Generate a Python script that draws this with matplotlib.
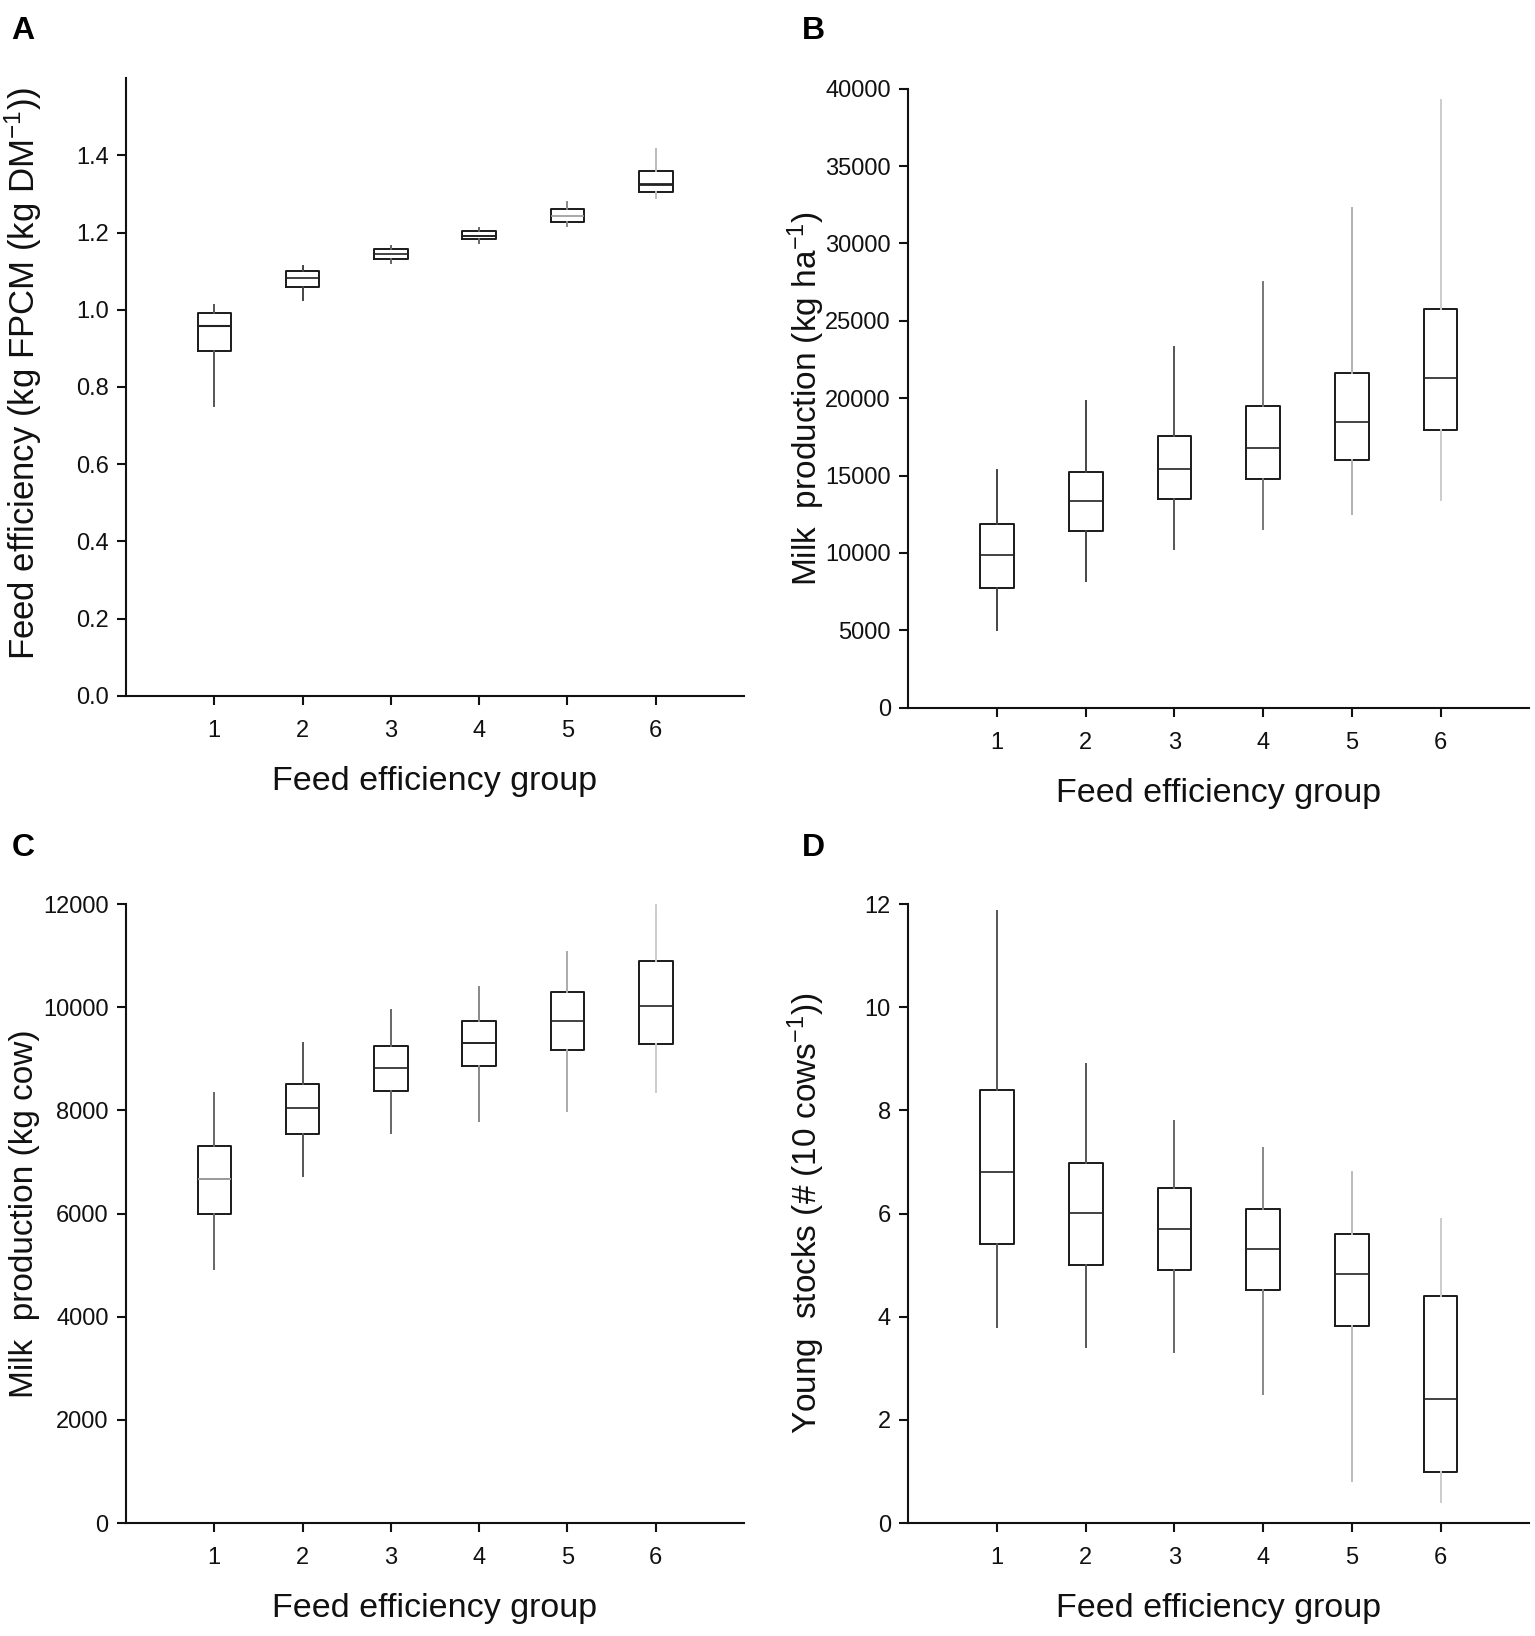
import matplotlib
matplotlib.use("Agg")
import matplotlib.pyplot as plt

plt.rcParams['font.family'] = ['Liberation Sans', 'DejaVu Sans']
plt.rcParams['mathtext.fontset'] = 'custom'
plt.rcParams['mathtext.rm'] = 'Liberation Sans'
plt.rcParams['mathtext.it'] = 'Liberation Sans:italic'
plt.rcParams['mathtext.bf'] = 'Liberation Sans:bold'

groups = [1, 2, 3, 4, 5, 6]

# Panel A: feed efficiency (kg FPCM / kg DM)
a_low = [0.752, 1.025, 1.122, 1.173, 1.217, 1.290]
a_q1 = [0.893, 1.058, 1.131, 1.184, 1.227, 1.304]
a_med = [0.958, 1.083, 1.145, 1.191, 1.243, 1.326]
a_q3 = [0.992, 1.100, 1.158, 1.203, 1.261, 1.358]
a_high = [1.012, 1.114, 1.166, 1.211, 1.279, 1.416]

# Panel B: milk production (kg/ha)
b_low = [5010, 8200, 10250, 11530, 12550, 13410]
b_q1 = [7740, 11400, 13510, 14790, 15980, 17960]
b_med = [9850, 13340, 15450, 16800, 18480, 21320]
b_q3 = [11890, 15260, 17530, 19470, 21610, 25770]
b_high = [15390, 19800, 23330, 27480, 32320, 39270]

# Panel C: milk production (kg/cow)
c_low = [4920, 6720, 7560, 7800, 7990, 8360]
c_q1 = [5990, 7550, 8380, 8870, 9170, 9280]
c_med = [6670, 8050, 8830, 9300, 9740, 10020]
c_q3 = [7310, 8520, 9250, 9730, 10290, 10900]
c_high = [8340, 9310, 9950, 10390, 11080, 11990]

# Panel D: young stocks (# per 10 cows)
d_low = [3.81, 3.41, 3.31, 2.51, 0.81, 0.40]
d_q1 = [5.41, 5.01, 4.91, 4.51, 3.82, 1.00]
d_med = [6.81, 6.01, 5.71, 5.32, 4.82, 2.41]
d_q3 = [8.40, 6.99, 6.50, 6.09, 5.60, 4.41]
d_high = [11.87, 8.90, 7.80, 7.28, 6.80, 5.90]

a_yticks = [0.0, 0.2, 0.4, 0.6, 0.8, 1.0, 1.2, 1.4]
b_yticks = [0, 5000, 10000, 15000, 20000, 25000, 30000, 35000, 40000]
c_yticks = [0, 2000, 4000, 6000, 8000, 10000, 12000]
d_yticks = [0, 2, 4, 6, 8, 10, 12]

panels = [
    dict(letter='A', rect=[0.0821, 0.5746, 0.4026, 0.3777], ylim=(0, 1.6),
         yticks=a_yticks, fmt='{:.1f}', ylsize=25,
         ylabel='Feed efficiency (kg FPCM (kg DM$^{-1}$))', lab=(-0.133, 0.523),
         stats=(a_low, a_q1, a_med, a_q3, a_high),
         wcol=['#555555', '#444444', '#666666', '#666666', '#888888', '#bbbbbb'],
         mcol=['#222222', '#222222', '#222222', '#222222', '#999999', '#222222'],
         mlw=[1.5, 1.2, 1.2, 1.4, 1.2, 2.0]),
    dict(letter='B', rect=[0.5917, 0.5674, 0.4046, 0.3784], ylim=(0, 40000),
         yticks=b_yticks, fmt='{:d}', ylsize=24,
         ylabel='Milk  production (kg ha$^{-1}$)', lab=(-0.131, 0.5),
         stats=(b_low, b_q1, b_med, b_q3, b_high),
         wcol=['#444444', '#444444', '#555555', '#777777', '#b0b0b0', '#cccccc'],
         mcol=['#222222'] * 6, mlw=[1.2] * 6),
    dict(letter='C', rect=[0.0821, 0.0690, 0.4026, 0.3784], ylim=(0, 12000),
         yticks=c_yticks, fmt='{:d}', ylsize=24,
         ylabel='Milk  production (kg cow)', lab=(-0.140, 0.5),
         stats=(c_low, c_q1, c_med, c_q3, c_high),
         wcol=['#666666', '#555555', '#666666', '#888888', '#aaaaaa', '#cccccc'],
         mcol=['#999999', '#222222', '#222222', '#222222', '#222222', '#222222'],
         mlw=[1.4, 1.2, 1.2, 1.4, 1.2, 1.2]),
    dict(letter='D', rect=[0.5917, 0.0690, 0.4046, 0.3784], ylim=(0, 12),
         yticks=d_yticks, fmt='{:d}', ylsize=24,
         ylabel='Young  stocks (# (10 cows$^{-1}$))', lab=(-0.131, 0.5),
         stats=(d_low, d_q1, d_med, d_q3, d_high),
         wcol=['#555555', '#555555', '#666666', '#888888', '#bbbbbb', '#cccccc'],
         mcol=['#222222'] * 6, mlw=[1.2] * 6),
]

letter_pos = {'A': (0.0075, 0.9903), 'B': (0.5225, 0.9903),
              'C': (0.0075, 0.4908), 'D': (0.5225, 0.4908)}

fig = plt.figure(figsize=(15.35, 16.36), dpi=100)

for p in panels:
    ax = fig.add_axes(p['rect'])
    low, q1, med, q3, high = p['stats']
    bstats = []
    for i in range(len(groups)):
        bstats.append(dict(whislo=low[i], q1=q1[i], med=med[i], q3=q3[i],
                           whishi=high[i], fliers=[], label=str(groups[i])))
    res = ax.bxp(bstats, positions=groups, widths=0.38, showcaps=False,
                 showfliers=False, patch_artist=False,
                 boxprops=dict(color='#1a1a1a', linewidth=1.4),
                 whiskerprops=dict(linewidth=1.4),
                 medianprops=dict(linewidth=1.2))
    for i in range(len(groups)):
        res['whiskers'][2 * i].set_color(p['wcol'][i])
        res['whiskers'][2 * i + 1].set_color(p['wcol'][i])
        res['medians'][i].set_color(p['mcol'][i])
        res['medians'][i].set_linewidth(p['mlw'][i])
    ax.set_xlim(0, 7)
    ax.set_ylim(*p['ylim'])
    ax.set_xticks(groups)
    ax.set_xticklabels([str(g) for g in groups])
    ax.set_yticks(p['yticks'])
    ax.set_yticklabels([p['fmt'].format(v) for v in p['yticks']])
    for s in ['top', 'right']:
        ax.spines[s].set_visible(False)
    for s in ['left', 'bottom']:
        ax.spines[s].set_linewidth(1.5)
        ax.spines[s].set_color('#111111')
    ax.tick_params(axis='both', direction='out', length=6.5, width=1.5,
                   colors='#111111', labelsize=17)
    ax.tick_params(axis='x', pad=11)
    ax.tick_params(axis='y', pad=6)
    ax.set_xlabel('Feed efficiency group', fontsize=24.5, labelpad=17, color='#111111')
    ax.set_ylabel(p['ylabel'], fontsize=p['ylsize'], color='#111111')
    ax.yaxis.set_label_coords(*p['lab'])
    lx, ly = letter_pos[p['letter']]
    fig.text(lx, ly, p['letter'], fontsize=23, fontweight='bold',
             ha='left', va='top')

fig.savefig('out.png', dpi=100, facecolor='white')
